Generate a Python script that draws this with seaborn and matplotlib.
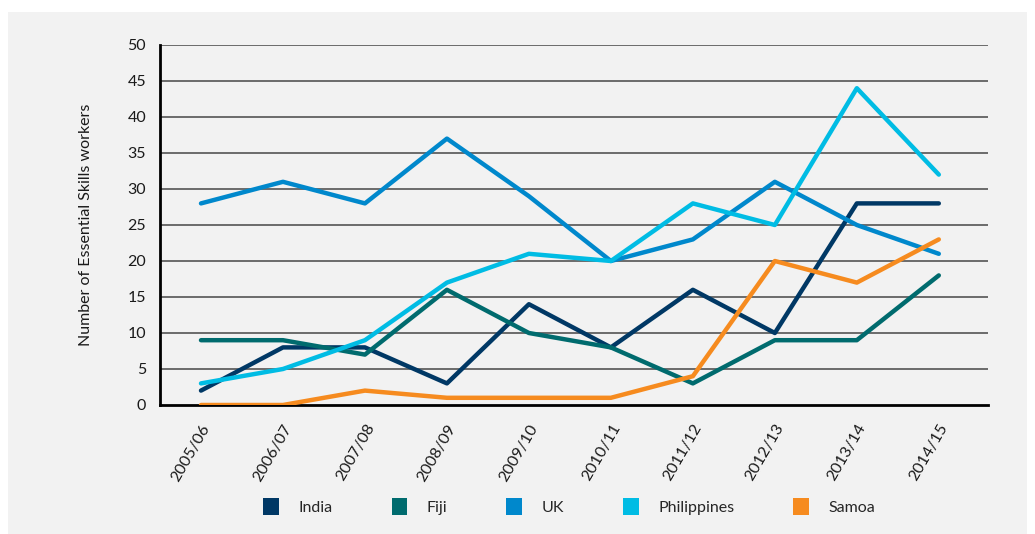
#!/usr/bin/env python3
"""Essential Skills workers by source country, 2005/06 - 2014/15."""

import matplotlib
matplotlib.use("Agg")
import matplotlib.pyplot as plt
import numpy as np
import pandas as pd
import seaborn as sns
from matplotlib.patches import Patch, Rectangle

YEARS = ["2005/06", "2006/07", "2007/08", "2008/09", "2009/10",
         "2010/11", "2011/12", "2012/13", "2013/14", "2014/15"]

INDIA = [2, 8, 8, 3, 14, 8, 16, 10, 28, 28]
FIJI = [9, 9, 7, 16, 10, 8, 3, 9, 9, 18]
UK = [28, 31, 28, 37, 29, 20, 23, 31, 25, 21]
PHILIPPINES = [3, 5, 9, 17, 21, 20, 28, 25, 44, 32]
SAMOA = [0, 0, 2, 1, 1, 1, 4, 20, 17, 23]

COUNTRIES = ["India", "Fiji", "UK", "Philippines", "Samoa"]
COLOURS = ["#003865", "#006b6e", "#0088cc", "#00bce4", "#f68b1f"]

BG = "#f2f2f2"


def main() -> None:
    sns.set_style("white")
    plt.rcParams["font.family"] = ["Lato", "DejaVu Sans"]

    series = [INDIA, FIJI, UK, PHILIPPINES, SAMOA]
    df = pd.DataFrame({
        "year": np.tile(np.arange(len(YEARS)), len(COUNTRIES)),
        "value": np.concatenate(series),
        "country": np.repeat(COUNTRIES, len(YEARS)),
    })

    fig = plt.figure(figsize=(10.35, 5.34), dpi=100, facecolor="white")
    fig.patches.append(Rectangle((8 / 1035, 0), 1019 / 1035, 522 / 534,
                                 transform=fig.transFigure, facecolor=BG,
                                 edgecolor="none", zorder=-10))
    ax = fig.add_axes([160 / 1035, 1 - 405 / 534, 828 / 1035, 360 / 534])
    ax.set_facecolor(BG)

    for y in range(5, 55, 5):
        ax.axhline(y, color="#6b6b6b", lw=1.4, zorder=1)

    sns.lineplot(data=df, x="year", y="value", hue="country",
                 hue_order=COUNTRIES, palette=COLOURS, lw=3.2,
                 ax=ax, legend=False, zorder=3)

    ax.set_xlim(-0.49, 9.6)
    ax.set_ylim(0, 50)
    ax.set_yticks(range(0, 55, 5))
    ax.tick_params(axis="y", length=0, pad=10, labelsize=11.5, labelcolor="#1a1a1a")

    ax.set_xticks(range(len(YEARS)))
    ax.set_xticklabels(YEARS, rotation=60, ha="right", rotation_mode="anchor",
                       fontsize=11.5, color="#1a1a1a")
    ax.tick_params(axis="x", which="major", length=0, pad=12)
    ax.set_xticks(np.arange(-0.5, 10, 1), minor=True)
    ax.tick_params(axis="x", which="minor", length=9, width=2, color="black",
                   direction="out")

    for side in ["top", "right"]:
        ax.spines[side].set_visible(False)
    ax.spines["left"].set_linewidth(2)
    ax.spines["bottom"].set_linewidth(2)
    ax.spines["left"].set_color("black")
    ax.spines["bottom"].set_color("black")

    ax.set_xlabel("")
    ax.set_ylabel("Number of Essential Skills workers", fontsize=11.5,
                  color="#1a1a1a", labelpad=25)

    handles = [Patch(facecolor=c, edgecolor="none", label=n)
               for n, c in zip(COUNTRIES, COLOURS)]
    fig.legend(handles=handles, loc="center", bbox_to_anchor=(0.55, 0.052),
               ncol=5, frameon=False, fontsize=11.5, handlelength=1.0,
               handleheight=1.3, handletextpad=1.2, columnspacing=3.7)

    fig.savefig("out.png", dpi=100, facecolor=fig.get_facecolor())
    plt.close(fig)


if __name__ == "__main__":
    main()
